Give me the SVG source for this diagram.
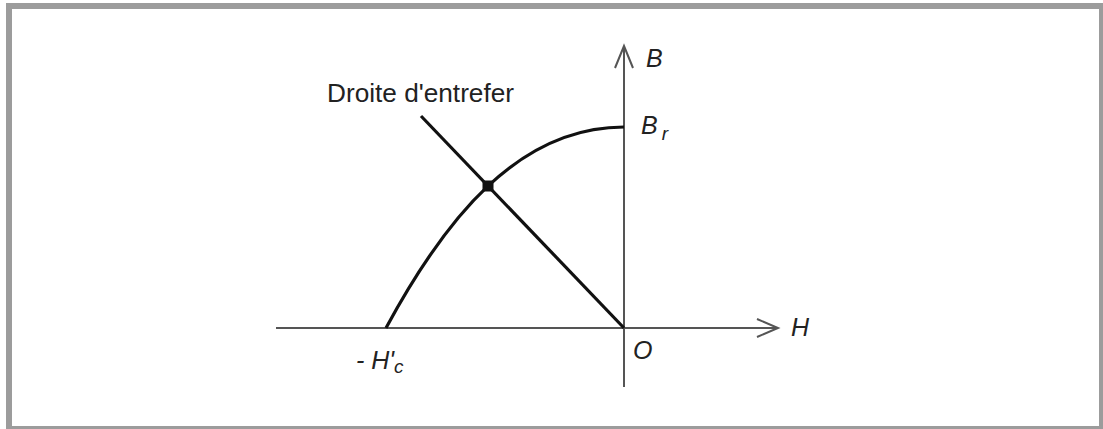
<svg xmlns="http://www.w3.org/2000/svg" width="1103" height="429" viewBox="0 0 1103 429">
<style>
.axis{stroke:#555;stroke-width:2;fill:none}
.curve{stroke:#111;stroke-width:3.2;fill:none}
.lbl{font-family:"Liberation Sans",Arial,sans-serif;fill:#222;font-size:25px}
.it{font-style:italic}
</style>
<rect x="0" y="0" width="1103" height="429" fill="#fff"/>
<rect x="6" y="3" width="1097" height="426" fill="#9c9c9c"/>
<rect x="12" y="9" width="1087" height="417" fill="#fff"/>
<g id="connectors">
<path class="axis" d="M276 328H778"/>
<path class="axis" d="M757 319L778 328L757 337"/>
<path class="axis" d="M624 387V46"/>
<path class="axis" d="M615 68L624 46L633 68"/>
<path class="curve" d="M386 328C446 217 519 127 624 127"/>
<path class="curve" d="M421 116L624 328"/>
</g>
<g id="point"><rect x="482.5" y="180.5" width="11" height="11" rx="2" fill="#111"/></g>
<g id="label-droite"><text class="lbl" x="327" y="102" font-size="26" textLength="187" lengthAdjust="spacingAndGlyphs">Droite d'entrefer</text></g>
<g id="label-B"><text class="lbl it" x="646" y="67">B</text></g>
<g id="label-Br"><text class="lbl it" x="641" y="134">B<tspan font-size="19" dx="4" dy="6">r</tspan></text></g>
<g id="label-Hc"><text class="lbl it" x="356" y="369">- H'<tspan font-size="19" dy="4">c</tspan></text></g>
<g id="label-O"><text class="lbl it" x="633" y="359">O</text></g>
<g id="label-H"><text class="lbl it" x="791" y="336">H</text></g>
</svg>
